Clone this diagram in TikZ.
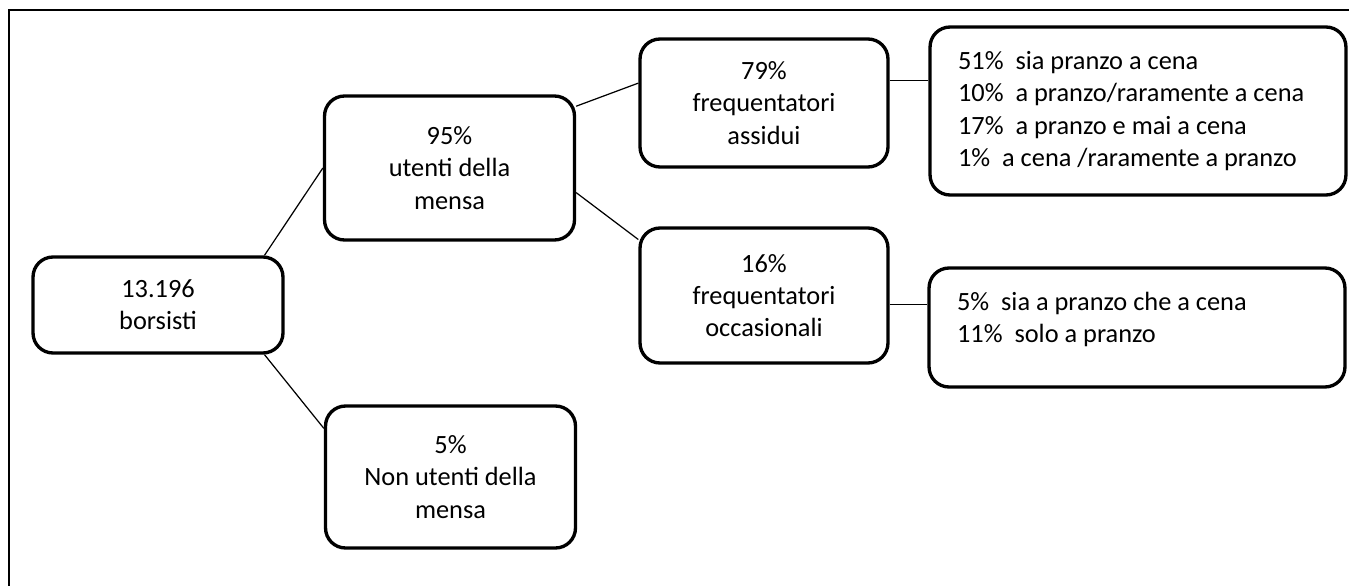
\documentclass[tikz,border=0pt]{standalone}
\usepackage{fontspec}
\setmainfont{Carlito}
\usepackage{tikz}

\begin{document}
\begin{tikzpicture}[x=0.02cm,y=-0.02cm,font={\fontsize{15pt}{18.4pt}\selectfont}]
% Two node styles: centred boxes and list boxes
\tikzstyle{box}=[draw,line width=1.9pt,rounded corners=0.4cm,align=center,minimum width=5cm,inner sep=0pt];
\tikzstyle{list box}=[box,align=flush left,text width=7.2cm,inner xsep=0.56cm];
\tikzstyle{link}=[line width=0.7pt];
\useasboundingbox (0,0) rectangle (1349,585);
% frame
\draw[line width=1.5pt] (9,600) -- (9,10) -- (1360,10);
% The Tree
\node(borsisti)[box,minimum height=1.92cm] at (158,305) {13.196\\borsisti};
\node(utenti)[box,minimum height=2.88cm] at (449.5,168) {95\%\\utenti della\\mensa};
\node(nonutenti)[box,minimum height=2.84cm] at (450.5,477) {5\%\\Non utenti della\\mensa};
\node(assidui)[box,minimum width=4.96cm,minimum height=2.56cm] at (764,103) {79\%\\frequentatori\\assidui};
\node(occasionali)[box,minimum width=4.96cm,minimum height=2.7cm] at (764,295.5) {16\%\\frequentatori\\occasionali};
\node(pastiA)[list box,minimum height=3.36cm] at (1138,111) {\mbox{51\%\ \ sia pranzo a cena}\\\mbox{10\%\ \ a pranzo/raramente a cena}\\\mbox{17\%\ \ a pranzo e mai a cena}\\\mbox{1\%\ \ a cena /raramente a pranzo}};
\node(pastiB)[list box,minimum height=2.38cm] at (1137,327.5) {\mbox{5\%\ \ sia a pranzo che a cena}\\\mbox{11\%\ \ solo a pranzo}\\[-7pt]\mbox{}};
% branches
\draw[link](borsisti.25)--(utenti.west);
\draw[link](borsisti.-25)--(nonutenti.159);
\draw[link](utenti.26)--(assidui.171);
\draw[link](utenti.-11)--(occasionali.156);
\draw[link](assidui.10)--(assidui.10 -| pastiA.west);
\draw[link](occasionali.-4)--(occasionali.-4 -| pastiB.west);
\end{tikzpicture}
\end{document}
